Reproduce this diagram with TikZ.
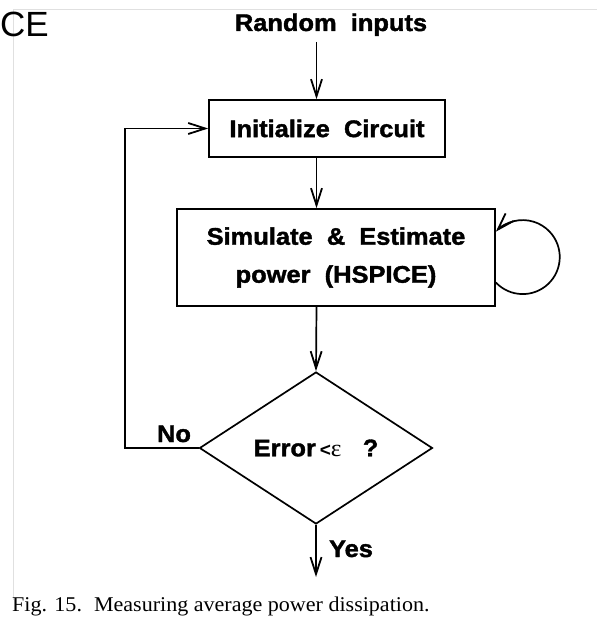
\documentclass[tikz,border=0pt]{standalone}
\usepackage{fontspec}
\usetikzlibrary{arrows.meta,shapes.geometric}
\newfontfamily\hbold{Liberation Sans}[FakeStretch=1.06, BoldFeatures={FakeBold=1.6}]
\newfontfamily\hsans{Liberation Sans}
\newfontfamily\tser{Liberation Serif}[FakeStretch=1.05]
\begin{document}
\begin{tikzpicture}[x=1pt,y=-1pt,
  lbl/.style={font=\hbold\bfseries\fontsize{24}{38}\selectfont, inner sep=0pt},
  box/.style={draw, line width=1.7pt, align=center, inner sep=0pt, font=\hbold\bfseries\fontsize{24}{38}\selectfont},
  arr/.style={line width=1.7pt, -{Straight Barb[length=17pt,width=11pt,line width=1.8pt]}},
  faint/.style={draw=black!12, line width=0.8pt}]
\useasboundingbox (0,0) rectangle (597,617);
% faint scan edges
\draw[faint] (13,9) -- (597,9);
\draw[faint] (13,9) -- (13,600);
\node[anchor=base west, inner sep=0pt, font=\hsans\fontsize{35}{35}\selectfont] (ce) at (0,37) {CE};
% nodes
\node[lbl, anchor=base] (rand) at (331,31) {Random\ \ inputs};
\node[box, minimum width=236pt, minimum height=57pt] (init) at (327,128.5) {Initialize\ \ Circuit};
\node[box, minimum width=318pt, minimum height=97pt] (sim) at (336,257.5) {Simulate\ \ \&\ \ Estimate\\power\ \ (HSPICE)};
\node[draw, diamond, line width=1.7pt, aspect=1.53, minimum width=233pt, minimum height=152pt, inner sep=0pt,
      font=\hbold\bfseries\fontsize{24}{28}\selectfont] (dia) at (316,448)
      {Error\,{\hsans\fontsize{19}{19}\selectfont<}{\tser\mdseries\fontsize{24}{24}\selectfont ε}\ \ \ ?};
\node[lbl, anchor=base] (no) at (174,442) {No};
\node[lbl, anchor=base] (yes) at (351,557) {Yes};
\node[anchor=base west, inner sep=0pt, font=\tser\fontsize{21}{21}\selectfont] (cap) at (12,611)
      {Fig. 15.\hspace{12pt}Measuring average power dissipation.};
% coordinates
\coordinate (ax) at (316.5,42);
\coordinate (lc) at (125,448);
\coordinate (yend) at (316,577);
% connectors
\draw[arr] (ax) -- (ax |- init.north);
\draw[arr] (ax |- init.south) -- (ax |- sim.north);
\draw[arr] (ax |- sim.south) -- (dia.north);
\draw[arr] (dia.south) -- (yend);
\draw[arr] (dia.west) -- (lc) |- (init.west);
\draw[arr] ([yshift=-25pt]sim.east) arc[start angle=223.4, end angle=496.6, radius=37pt];
\end{tikzpicture}
\end{document}
